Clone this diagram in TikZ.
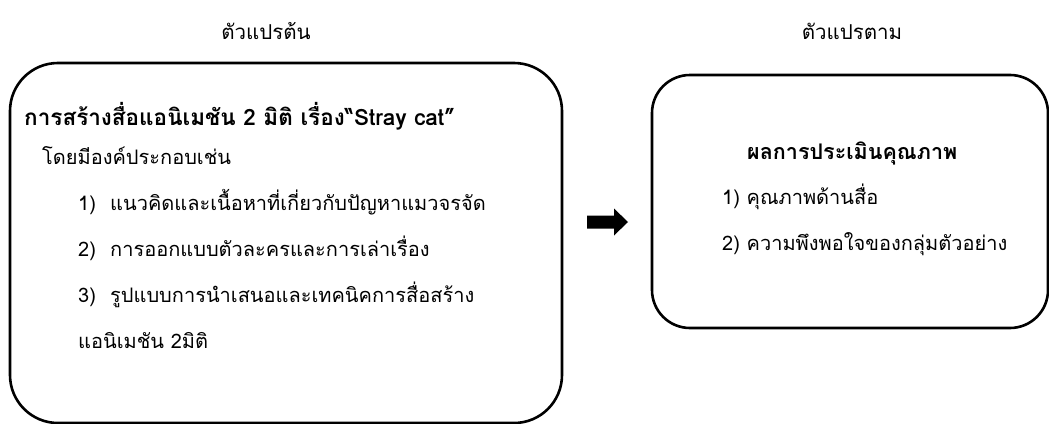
\documentclass[tikz,border=0pt]{standalone}
\usepackage{fontspec}
\setmainfont[Script=Thai]{Loma}
\begin{document}
\begin{tikzpicture}[x=1pt,y=-1pt,
  box/.style={draw=black,line width=2.6pt,rounded corners=#1,inner sep=0pt},
  txt/.style={anchor=base west,inner sep=0pt,font=\fontsize{20}{24}\selectfont},
  btxt/.style={anchor=base west,inner sep=0pt,font=\fontsize{#1}{25}\selectfont\bfseries},
  head/.style={anchor=base,inner sep=0pt,font=\fontsize{20.5}{24}\selectfont},
  blockarrow/.style={fill=black,draw=none}]
\useasboundingbox (0,0) rectangle (1049,423);
% boxes
\node[box=48pt,minimum width=552pt,minimum height=360pt] (L) at (286,243) {};
\node[box=38pt,minimum width=396pt,minimum height=253pt] (R) at (850,201.5) {};
% headings
\node[head] (hL) at (266,39) {ตัวแปรต้น};
\node[head] (hR) at (852,39) {ตัวแปรตาม};
% left texts
\node[btxt=22.5] (l1) at (24,125) {การสร้างสื่อแอนิเมชัน 2 มิติ เรื่อง“Stray cat”};
\node[txt] (l2) at (42,164) {โดยมีองค์ประกอบเช่น};
\node[txt] (n1) at (78,210) {1)};
\node[txt] (t1) at (110,210) {แนวคิดและเนื้อหาที่เกี่ยวกับปัญหาแมวจรจัด};
\node[txt] (n2) at (78,256) {2)};
\node[txt] (t2) at (110,256) {การออกแบบตัวละครและการเล่าเรื่อง};
\node[txt] (n3) at (78,302) {3)};
\node[txt] (t3) at (110,302) {รูปแบบการนำเสนอและเทคนิคการสื่อสร้าง};
\node[txt] (t4) at (78,348) {แอนิเมชัน 2มิติ};
% right texts
\node[btxt=21.5] (r1) at (747,159) {ผลการประเมินคุณภาพ};
\node[txt] (r2) at (722,204) {1) คุณภาพด้านสื่อ};
\node[txt] (r3) at (722,250) {2) ความพึงพอใจของกลุ่มตัวอย่าง};
% arrow
\coordinate (A) at (587,222);
\fill[blockarrow] (A) ++(0,-6.5) -- ++(27,0) -- ++(0,-7) -- ++(14,13.5)
  -- ++(-14,13.5) -- ++(0,-7) -- ++(-27,0) -- cycle;
\end{tikzpicture}
\end{document}
